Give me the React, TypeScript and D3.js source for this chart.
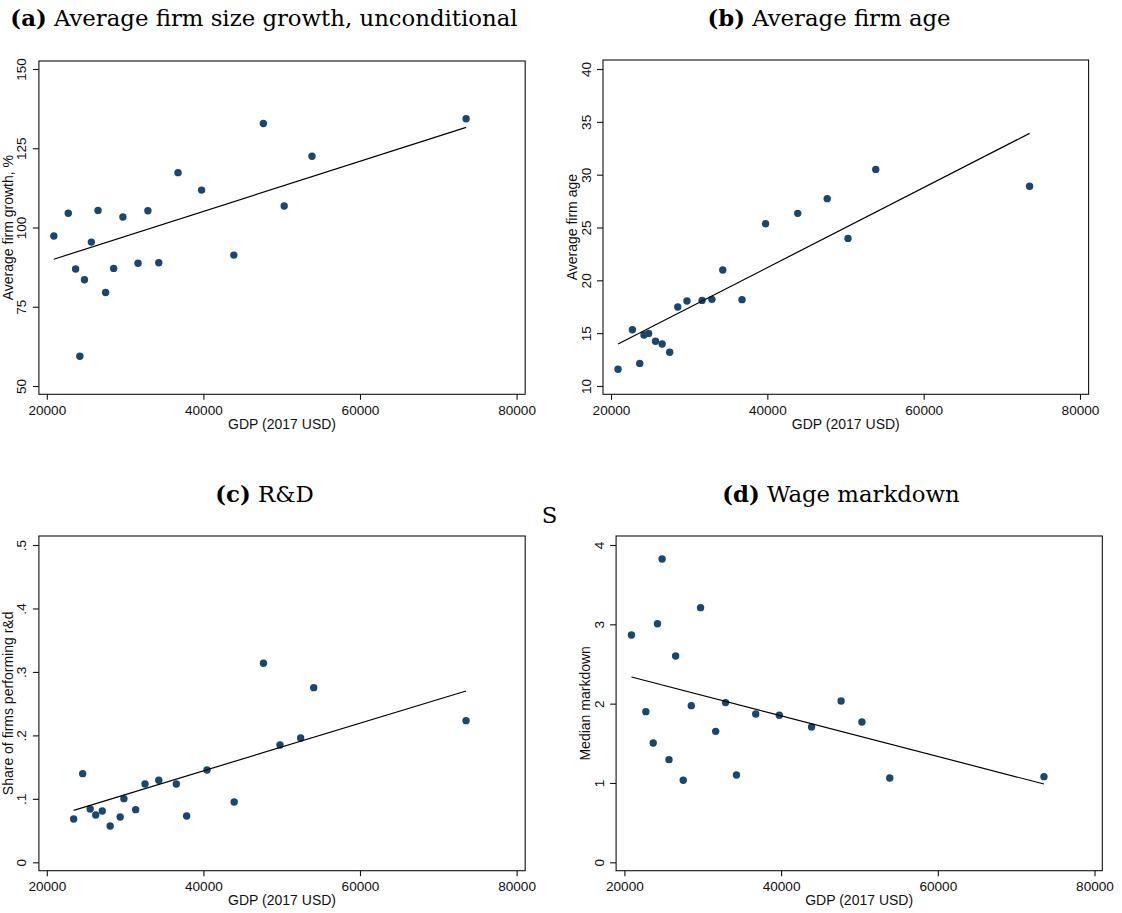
import React, { useEffect, useRef } from "react";
import * as d3 from "d3";

// GDP per country (2017 USD), shared by panels a, b and d
const gdp = [
  20900, 22740, 23680, 24220, 24810, 25690, 26540, 27510, 28540, 29720,
  31650, 32910, 34300, 36760, 39770, 43890, 47660, 50320, 53870, 73550,
];
const firmGrowth = [
  97.3, 104.5, 86.9, 59.4, 83.5, 95.4, 105.4, 79.5, 87.1, 103.3,
  88.7, 105.3, 88.9, 117.3, 111.8, 91.3, 132.8, 106.8, 122.5, 134.3,
];
const firmAge = [
  11.58, 15.33, 12.14, 14.83, 14.98, 14.23, 13.97, 13.19, 17.48, 18.04,
  18.1, 18.2, 20.98, 18.17, 25.36, 26.34, 27.73, 23.97, 30.5, 28.9,
];
const markdown = [
  2.866, 1.899, 1.504, 3.008, 3.824, 1.294, 2.601, 1.034, 1.975, 3.21,
  1.651, 2.013, 1.101, 1.87, 1.853, 1.706, 2.034, 1.769, 1.063, 1.08,
];

// panel c has its own country set
const gdpRD = [
  23430, 24580, 25540, 26250, 27080, 28090, 29370, 29850, 31350, 32540,
  34300, 36540, 37860, 40460, 43930, 47670, 49780, 52420, 54090, 73540,
];
const rdShare = [
  0.0683, 0.1397, 0.084, 0.0746, 0.0809, 0.0572, 0.0714, 0.1003, 0.083, 0.1234,
  0.1292, 0.1234, 0.073, 0.1455, 0.0951, 0.3136, 0.1849, 0.1959, 0.2752, 0.2232,
];

// fitted lines (endpoints)
const fitGdp = [20900, 73550];
const fitGdpRD = [23430, 73540];
const fitGrowth = [90.0, 131.6];
const fitAge = [13.97, 33.91];
const fitRD = [0.0819, 0.27];
const fitMarkdown = [2.336, 0.987];

const gdpTicks = [20000, 40000, 60000, 80000];
const growthTicks = [50, 75, 100, 125, 150];
const ageTicks = [10, 15, 20, 25, 30, 35, 40];
const rdTicks = [0, 0.1, 0.2, 0.3, 0.4, 0.5];
const markdownTicks = [0, 1, 2, 3, 4];

const W = 1122;
const H = 913;
const SANS = "'Liberation Sans', Arial, Helvetica, sans-serif";
const SERIF = "'DejaVu Serif', 'Liberation Serif', serif";
const NAVY = "#1a476f";
const TITLE_SIZE = 22.8;

const App = () => {
  const ref = useRef<SVGSVGElement>(null);

  useEffect(() => {
    const svg = d3.select(ref.current);
    svg.selectAll("*").remove();

    const panels = [
      {
        tag: "(a)", title: " Average firm size growth, unconditional", tx: 264, ty: 26,
        box: [38.9, 525.2, 61, 394.3], xr: [46.8, 516.6],
        yd: [50, 150], yr: [386, 69], yTicks: growthTicks, yFmt: d3.format("d"),
        yLabel: "Average firm growth, %", xs: gdp, ys: firmGrowth, fx: fitGdp, fy: fitGrowth,
      },
      {
        tag: "(b)", title: " Average firm age", tx: 829, ty: 26,
        box: [603, 1088.6, 60, 394.3], xr: [611, 1080],
        yd: [10, 40], yr: [386, 69], yTicks: ageTicks, yFmt: d3.format("d"),
        yLabel: "Average firm age", xs: gdp, ys: firmAge, fx: fitGdp, fy: fitAge,
      },
      {
        tag: "(c)", title: " R&D", tx: 264.5, ty: 501.7,
        box: [38.9, 525.2, 536, 870.7], xr: [46.8, 516.6],
        yd: [0, 0.5], yr: [862.3, 545], yTicks: rdTicks,
        yFmt: (d: number) => (d === 0 ? "0" : String(d).replace(/^0/, "")),
        yLabel: "Share of firms performing r&d", xs: gdpRD, ys: rdShare, fx: fitGdpRD, fy: fitRD,
      },
      {
        tag: "(d)", title: " Wage markdown", tx: 841, ty: 501.7,
        box: [616.1, 1102.3, 536, 870.7], xr: [624.4, 1094.5],
        yd: [0, 4], yr: [862.3, 545], yTicks: markdownTicks, yFmt: d3.format("d"),
        yLabel: "Median markdown", xs: gdp, ys: markdown, fx: fitGdp, fy: fitMarkdown,
      },
    ];

    panels.forEach((p) => {
      const [bx0, bx1, by0, by1] = p.box;
      const x = d3.scaleLinear().domain([20000, 80000]).range(p.xr);
      const y = d3.scaleLinear().domain(p.yd).range(p.yr);
      const g = svg.append("g");

      // panel title
      const t = g
        .append("text")
        .attr("x", p.tx)
        .attr("y", p.ty)
        .attr("text-anchor", "middle")
        .attr("font-family", SERIF)
        .attr("font-size", TITLE_SIZE)
        .attr("fill", "#000");
      t.append("tspan").attr("font-weight", "bold").text(p.tag);
      t.append("tspan").text(p.title);

      // frame
      g.append("rect")
        .attr("x", bx0)
        .attr("y", by0)
        .attr("width", bx1 - bx0)
        .attr("height", by1 - by0)
        .attr("fill", "#fff")
        .attr("stroke", "#111")
        .attr("stroke-width", 1.1);

      // x axis
      const xa = g
        .append("g")
        .attr("transform", `translate(0,${by1})`)
        .call(d3.axisBottom(x).tickValues(gdpTicks).tickSize(5.5).tickFormat(d3.format("d")));
      xa.select(".domain").remove();
      xa.selectAll("line").attr("stroke", "#111").attr("stroke-width", 1.1);
      xa.selectAll("text")
        .attr("y", 15.7)
        .attr("dy", "0.35em")
        .attr("font-family", SANS)
        .attr("font-size", 13.6)
        .attr("fill", "#111");

      g.append("text")
        .attr("x", (bx0 + bx1) / 2)
        .attr("y", by1 + 29.7)
        .attr("dy", "0.35em")
        .attr("text-anchor", "middle")
        .attr("font-family", SANS)
        .attr("font-size", 14)
        .attr("fill", "#111")
        .text("GDP (2017 USD)");

      // y axis
      const ya = g
        .append("g")
        .attr("transform", `translate(${bx0},0)`)
        .call(d3.axisLeft(y).tickValues(p.yTicks).tickSize(6).tickFormat(p.yFmt as any));
      ya.select(".domain").remove();
      ya.selectAll("line").attr("stroke", "#111").attr("stroke-width", 1.1);
      ya.selectAll("text")
        .attr("x", null)
        .attr("dy", null)
        .attr("transform", "translate(-17,0) rotate(-90)")
        .attr("text-anchor", "middle")
        .attr("dominant-baseline", "central")
        .attr("font-family", SANS)
        .attr("font-size", 13.6)
        .attr("fill", "#111");

      g.append("text")
        .attr("transform", `translate(${bx0 - 31.4},${(by0 + by1) / 2}) rotate(-90)`)
        .attr("text-anchor", "middle")
        .attr("dominant-baseline", "central")
        .attr("font-family", SANS)
        .attr("font-size", 14)
        .attr("fill", "#111")
        .text(p.yLabel);

      // points
      g.append("g")
        .selectAll("circle")
        .data(p.xs.map((v, i) => [v, p.ys[i]]))
        .join("circle")
        .attr("cx", (d) => x(d[0]))
        .attr("cy", (d) => y(d[1]))
        .attr("r", 3.7)
        .attr("fill", NAVY);

      // fitted line
      const line = d3
        .line<number>()
        .x((d) => x(d))
        .y((d, i) => y(p.fy[i]));
      g.append("path")
        .attr("d", line(p.fx))
        .attr("fill", "none")
        .attr("stroke", "#000")
        .attr("stroke-width", 1.2);
    });

    svg
      .append("text")
      .attr("x", 549.6)
      .attr("y", 522.7)
      .attr("text-anchor", "middle")
      .attr("font-family", SERIF)
      .attr("font-size", TITLE_SIZE)
      .attr("fill", "#000")
      .text("S");
  }, []);

  return (
    <svg
      ref={ref}
      width={W}
      height={H}
      viewBox={`0 0 ${W} ${H}`}
      style={{ position: "absolute", left: 0, top: 0, background: "#fff" }}
    />
  );
};

export default App;
